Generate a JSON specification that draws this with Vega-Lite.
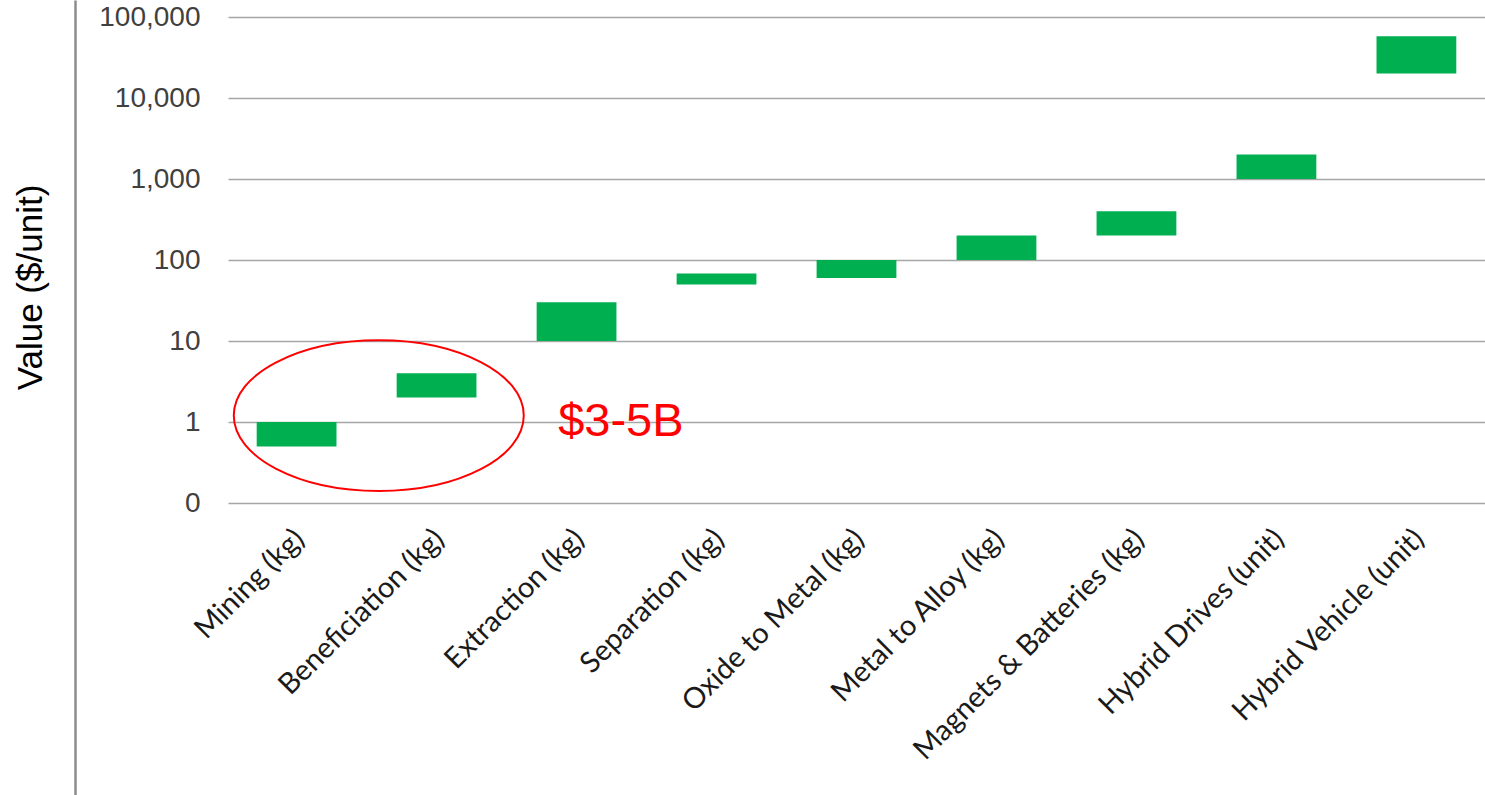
{
  "$schema": "https://vega.github.io/schema/vega-lite/v6.json",
  "width": 1257,
  "height": 486,
  "autosize": {"type": "none"},
  "padding": {"left": 228, "top": 17, "right": 0, "bottom": 292},
  "background": "#ffffff",
  "config": {"view": {"stroke": null}, "font": "Liberation Sans"},
  "datasets": {
    "chain": [
      {"stage": "Mining (kg)", "low": 0.5, "high": 1},
      {"stage": "Beneficiation (kg)", "low": 2, "high": 4},
      {"stage": "Extraction (kg)", "low": 10, "high": 30},
      {"stage": "Separation (kg)", "low": 50, "high": 68},
      {"stage": "Oxide to Metal (kg)", "low": 60, "high": 100},
      {"stage": "Metal to Alloy (kg)", "low": 100, "high": 200},
      {"stage": "Magnets & Batteries (kg)", "low": 200, "high": 400},
      {"stage": "Hybrid Drives (unit)", "low": 1000, "high": 2000},
      {"stage": "Hybrid Vehicle (unit)", "low": 20000, "high": 58000}
    ],
    "ring": [{"stage": "Mining (kg)", "value": 1.2}],
    "note": [{"stage": "Extraction (kg)", "value": 1, "label": "$3-5B"}]
  },
  "encoding": {
    "x": {
      "field": "stage",
      "type": "nominal",
      "title": null,
      "scale": {
        "domain": ["Mining (kg)", "Beneficiation (kg)", "Extraction (kg)", "Separation (kg)", "Oxide to Metal (kg)", "Metal to Alloy (kg)", "Magnets & Batteries (kg)", "Hybrid Drives (unit)", "Hybrid Vehicle (unit)"],
        "paddingInner": 0.43,
        "paddingOuter": 0.205
      },
      "axis": {
        "labelAngle": -45,
        "labelAlign": "right",
        "labelBaseline": "top",
        "labelFont": "Lato",
        "labelFontSize": 29,
        "labelColor": "#1a1a1a",
        "labelPadding": 21,
        "labelOffset": -7,
        "labelLimit": 0,
        "domain": false,
        "ticks": false,
        "grid": false
      }
    }
  },
  "layer": [
    {
      "layer": [
        {
          "data": {"name": "chain"},
          "mark": {"type": "bar", "color": "#00b050"},
          "encoding": {
            "y": {
              "field": "low",
              "type": "quantitative",
              "title": null,
              "scale": {"type": "log", "domain": [0.1, 100000]},
              "axis": {
                "orient": "left",
                "values": [0.1, 1, 10, 100, 1000, 10000, 100000],
                "format": ",.0f",
                "domain": false,
                "ticks": false,
                "labelPadding": 28,
                "labelFont": "Liberation Sans",
                "labelFontSize": 28,
                "labelColor": "#404040",
                "grid": true,
                "gridColor": "#a6a6a6",
                "gridWidth": 1.5
              }
            },
            "y2": {"field": "high"}
          }
        },
        {
          "data": {"name": "ring"},
          "mark": {
            "type": "point",
            "shape": "M-1,0A1,0.52,0,1,0,1,0A1,0.52,0,1,0,-1,0Z",
            "size": 84100,
            "filled": false,
            "stroke": "#ff0000",
            "strokeWidth": 2,
            "opacity": 1
          },
          "encoding": {
            "x": {"field": "stage", "type": "nominal", "title": null, "bandPosition": 1.53},
            "y": {"field": "value", "type": "quantitative", "title": null, "scale": {"type": "log", "domain": [0.1, 100000]}}
          }
        },
        {
          "data": {"name": "note"},
          "mark": {
            "type": "text",
            "align": "left",
            "baseline": "middle",
            "font": "Liberation Sans",
            "fontSize": 47,
            "color": "#ff0000"
          },
          "encoding": {
            "x": {"field": "stage", "type": "nominal", "title": null, "bandPosition": 0.27},
            "y": {"field": "value", "type": "quantitative", "title": null, "scale": {"type": "log", "domain": [0.1, 100000]}},
            "text": {"field": "label"}
          }
        }
      ]
    },
    {
      "data": {"name": "chain"},
      "mark": {"type": "point", "opacity": 0},
      "encoding": {
        "y": {
          "field": "high",
          "type": "quantitative",
          "scale": {"type": "log", "domain": [0.1, 100000], "range": [778, -17]},
          "axis": {
            "orient": "left",
            "offset": 153,
            "domain": true,
            "domainColor": "#8c8c8c",
            "domainWidth": 2.5,
            "ticks": false,
            "labels": false,
            "grid": false,
            "title": "Value ($/unit)",
            "titleFont": "Liberation Sans",
            "titleFontSize": 35,
            "titleFontWeight": "normal",
            "titleColor": "#000000",
            "titleAngle": -90,
            "titleAlign": "center",
            "titleBaseline": "middle",
            "titleX": -45,
            "titleY": 270
          }
        }
      }
    }
  ],
  "resolve": {"scale": {"y": "independent"}, "axis": {"y": "independent"}}
}
